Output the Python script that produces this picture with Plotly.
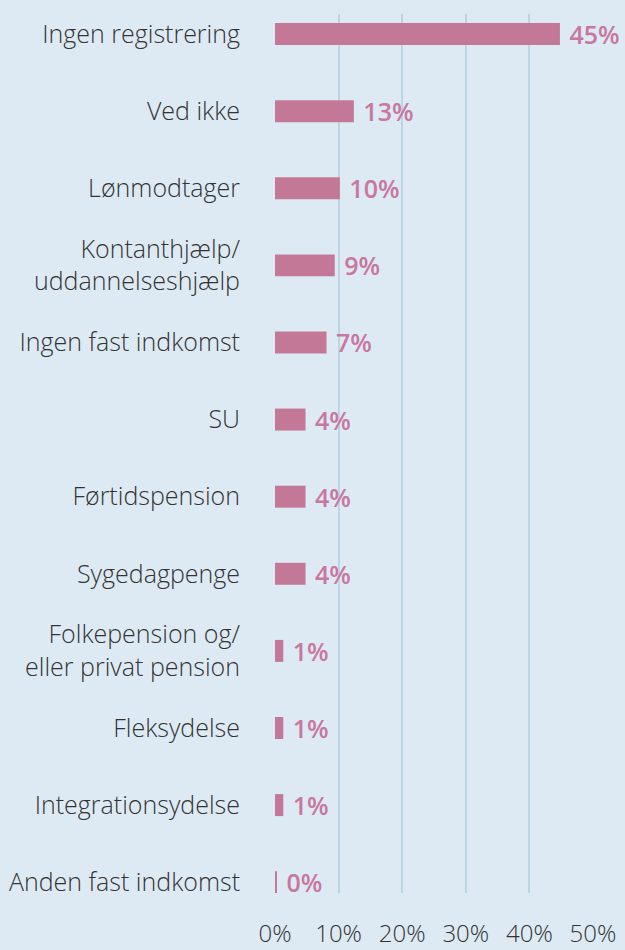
import plotly.graph_objects as go

categories = [
    "Ingen registrering",
    "Ved ikke",
    "Lønmodtager",
    "Kontanthjælp/<br>uddannelseshjælp",
    "Ingen fast indkomst",
    "SU",
    "Førtidspension",
    "Sygedagpenge",
    "Folkepension og/<br>eller privat pension",
    "Fleksydelse",
    "Integrationsydelse",
    "Anden fast indkomst",
]
# bar lengths as drawn in the picture (percent)
bar_values = [44.8, 12.4, 10.2, 9.4, 8.1, 4.8, 4.8, 4.8, 1.3, 1.3, 1.3, 0.3]
# printed value labels
value_labels = ["45%", "13%", "10%", "9%", "7%", "4%", "4%", "4%", "1%", "1%", "1%", "0%"]
x_ticks = [0, 10, 20, 30, 40, 50]
x_tick_labels = ["0%", "10%", "20%", "30%", "40%", "50%"]

BG = "#ddeaf4"
BAR = "#c47898"
LABEL = "#c8779f"
TEXT = "#333333"
GRID = "#bdd5e1"
FONT = "Open Sans"

fig = go.Figure(
    go.Bar(
        y=categories,
        x=bar_values,
        orientation="h",
        width=0.285,
        marker=dict(color=BAR, line=dict(width=0)),
        text=["\u00a0" + t for t in value_labels],
        textposition="outside",
        constraintext="none",
        textfont=dict(family=FONT, size=25, color=LABEL, weight=600),
        cliponaxis=False,
        hoverinfo="skip",
    )
)

fig.update_layout(
    width=625,
    height=950,
    margin=dict(l=275, r=32, t=14, b=57),
    paper_bgcolor=BG,
    plot_bgcolor=BG,
    showlegend=False,
    font=dict(family=FONT, size=24, color=TEXT, weight=300),
    xaxis=dict(
        range=[0, 50],
        tickvals=x_ticks,
        ticktext=x_tick_labels,
        showgrid=True,
        gridcolor=GRID,
        gridwidth=2,
        zeroline=False,
        showline=False,
        ticks="",
        ticklabelstandoff=24,
        tickfont=dict(family=FONT, size=24, color=TEXT, weight=300),
        automargin=False,
        fixedrange=True,
    ),
    yaxis=dict(
        categoryorder="array",
        categoryarray=categories,
        range=[11.14, -0.26],
        showgrid=False,
        zeroline=False,
        showline=False,
        ticks="",
        ticklabelstandoff=34,
        tickfont=dict(family=FONT, size=25, color=TEXT, weight=300),
        automargin=False,
        fixedrange=True,
    ),
)

fig.write_html(
    "out.html",
    config={"displayModeBar": False},
    post_script="document.body.style.margin='0';document.body.style.background='" + BG + "';",
)
